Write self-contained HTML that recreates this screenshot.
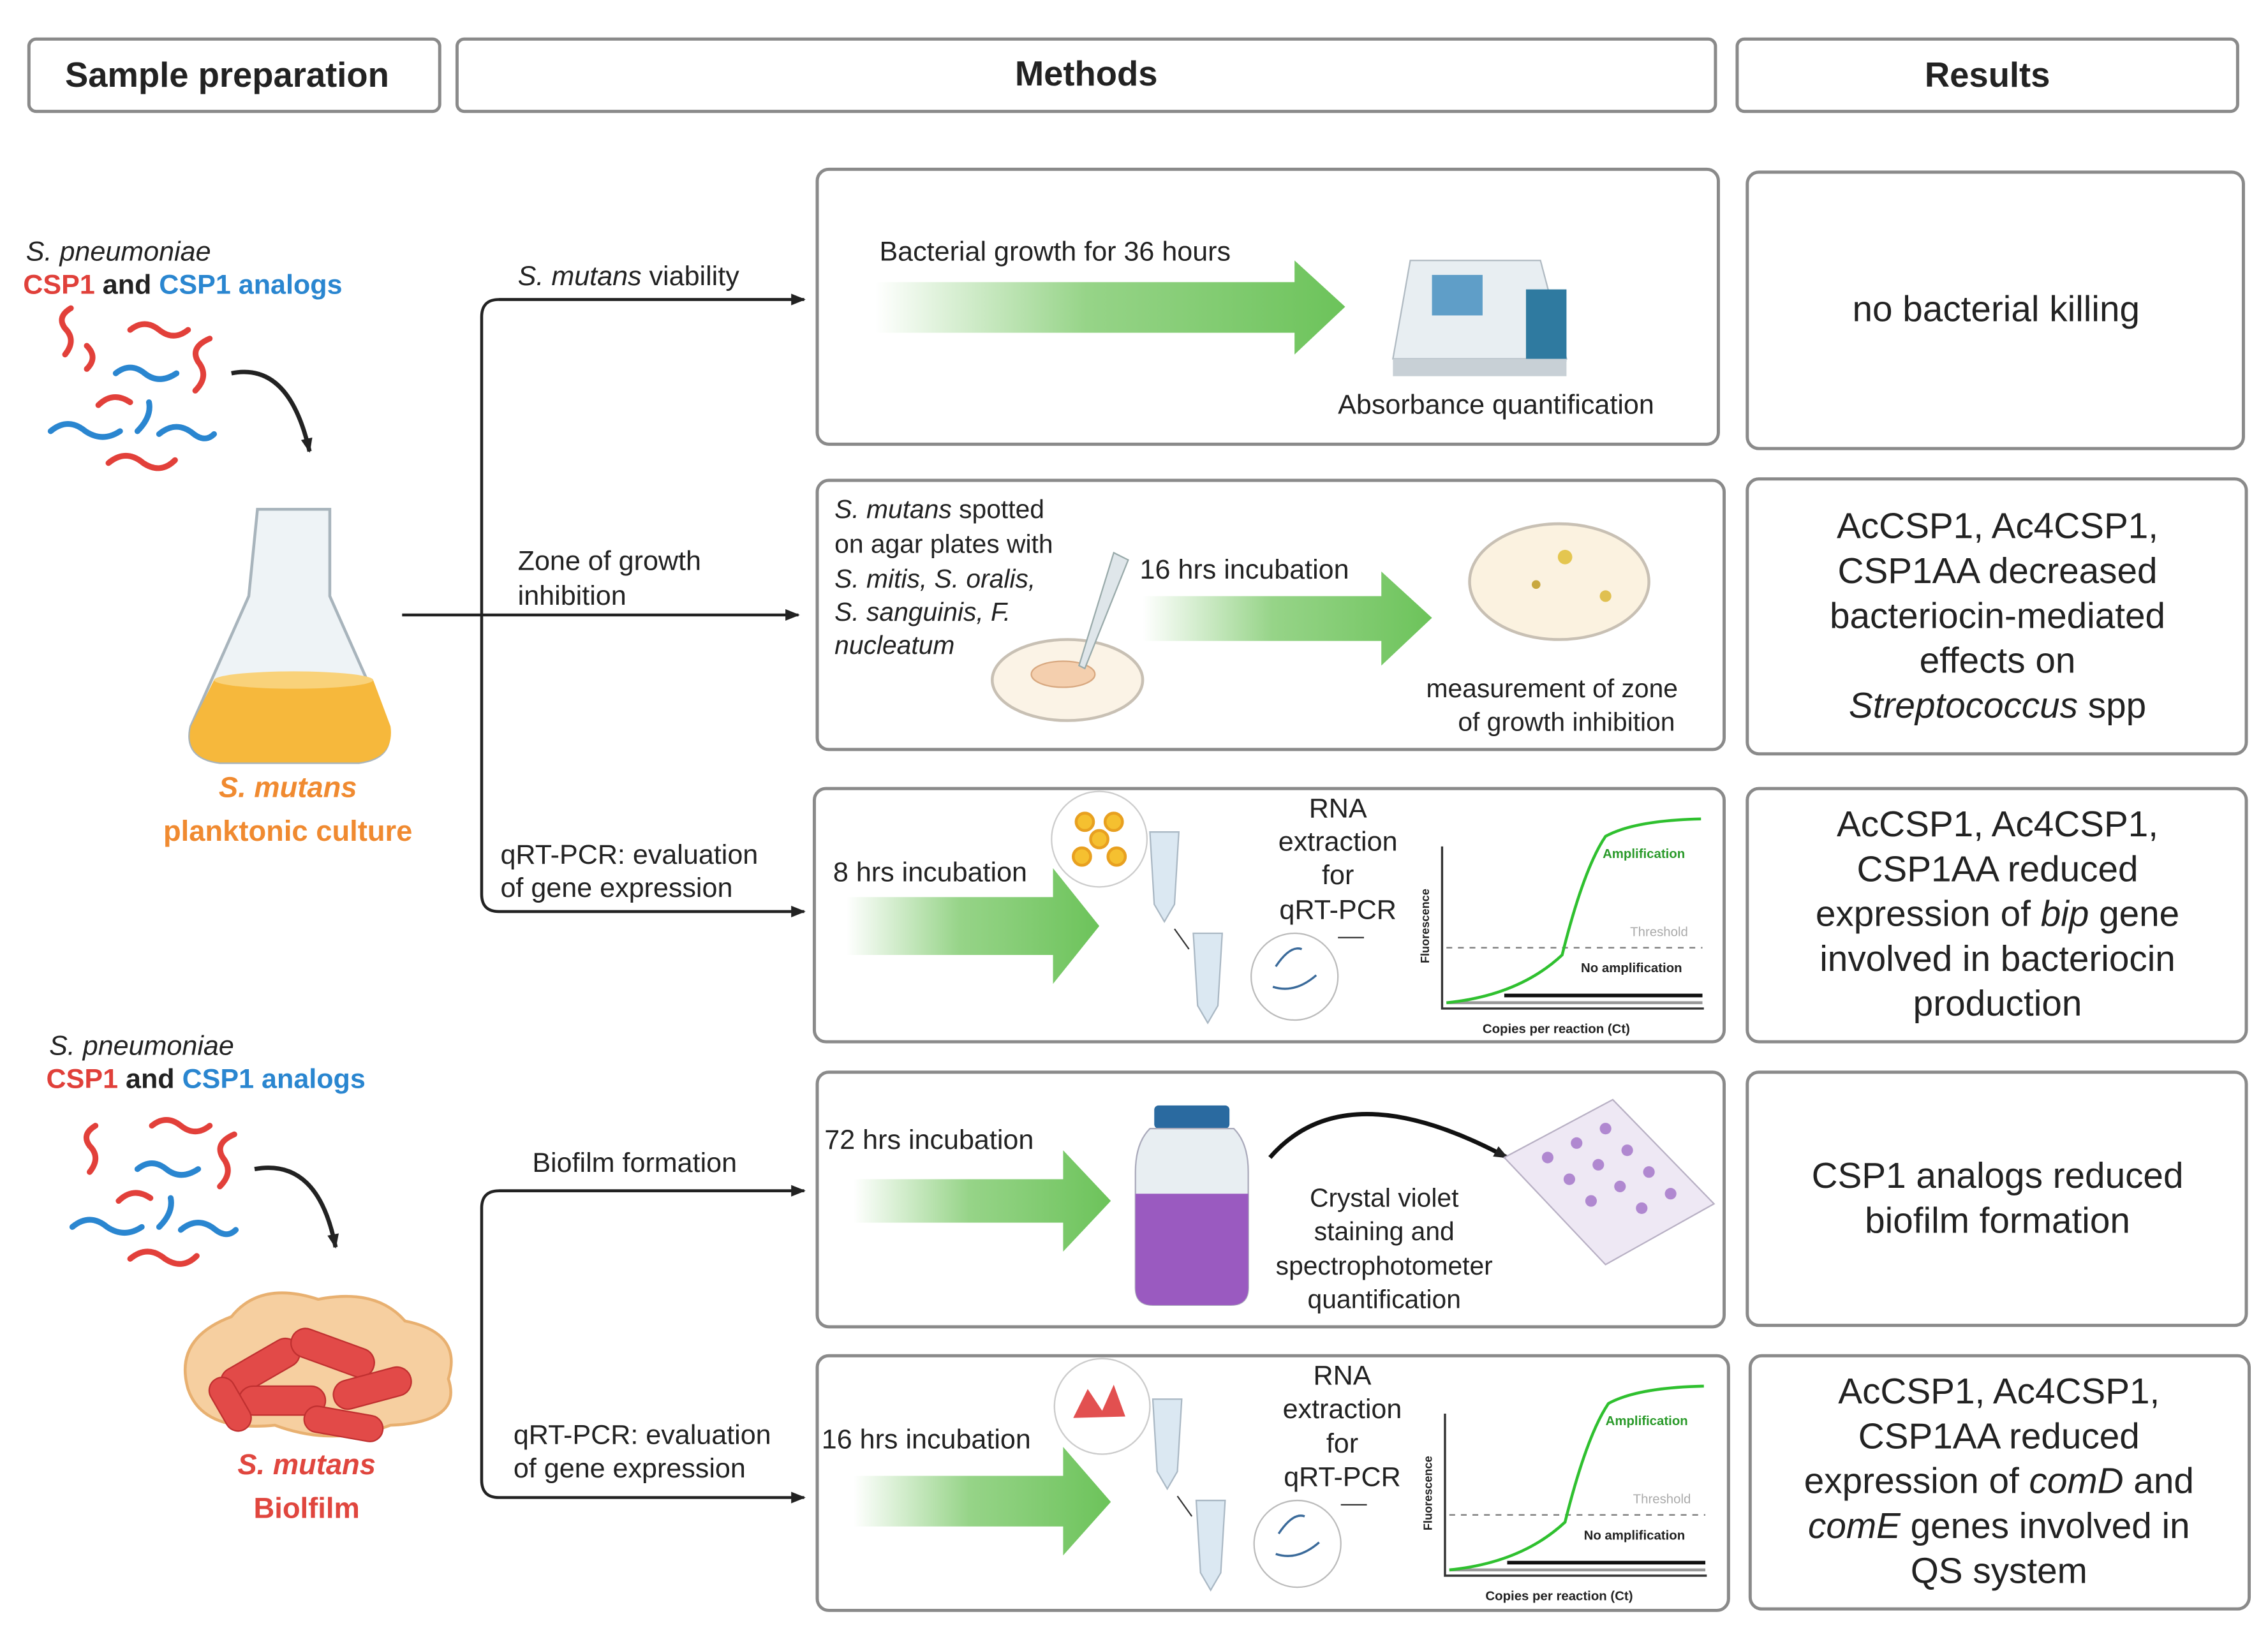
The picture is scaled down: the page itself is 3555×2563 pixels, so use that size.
<!DOCTYPE html>
<html><head><meta charset="utf-8"><style>
html,body{margin:0;padding:0;background:#fff;}
svg{display:block;}
text{font-family:"Liberation Sans",sans-serif;}
</style></head><body>
<svg width="3555" height="2563" viewBox="0 0 1568 1130" preserveAspectRatio="none" xmlns="http://www.w3.org/2000/svg" fill="#222">
<defs>
<linearGradient id="g" x1="0" x2="1" y1="0" y2="0">
<stop offset="0" stop-color="#7cc96a" stop-opacity="0"/>
<stop offset="0.45" stop-color="#7cc96a" stop-opacity="0.8"/>
<stop offset="1" stop-color="#6cc35a"/>
</linearGradient>
<marker id="ah" markerWidth="10" markerHeight="10" refX="9" refY="5" orient="auto" markerUnits="userSpaceOnUse">
<path d="M0,1 L10,5 L0,9 Z" fill="#222"/></marker>
</defs>
<g fill="none" stroke="#8a8a8a" stroke-width="2.2">
<rect x="20" y="27" width="284" height="50" rx="5"/>
<rect x="316" y="27" width="870" height="50" rx="5"/>
<rect x="1201" y="27" width="346" height="50" rx="5"/>
<rect x="565" y="117" width="623" height="190" rx="8"/>
<rect x="565" y="332" width="627" height="186" rx="8"/>
<rect x="563" y="545" width="629" height="175" rx="8"/>
<rect x="565" y="741" width="627" height="176" rx="8"/>
<rect x="565" y="937" width="630" height="176" rx="8"/>
<rect x="1208" y="119" width="343" height="191" rx="8"/>
<rect x="1208" y="331" width="345" height="190" rx="8"/>
<rect x="1208" y="545" width="345" height="175" rx="8"/>
<rect x="1208" y="741" width="345" height="175" rx="8"/>
<rect x="1210" y="937" width="345" height="175" rx="8"/>
</g>
<g font-size="24" font-weight="bold" text-anchor="middle">
<text x="157" y="60">Sample preparation</text>
<text x="751" y="59">Methods</text>
<text x="1374" y="60">Results</text>
</g>
<g fill="none" stroke="#222" stroke-width="2">
<path d="M556,207 H345 Q333,207 333,219 V618 Q333,630 345,630 H556" marker-end="url(#ah)"/>
<path d="M345,207 H556" marker-end="url(#ah)"/>
<path d="M278,425 H552" marker-end="url(#ah)"/>
<path d="M556,823 H345 Q333,823 333,835 V1023 Q333,1035 345,1035 H556" marker-end="url(#ah)"/>
<path d="M345,823 H556" marker-end="url(#ah)"/>
</g>
<g font-size="19">
<text x="358" y="197"><tspan font-style="italic">S. mutans</tspan> viability</text>
<text x="358" y="394">Zone of growth</text><text x="358" y="418">inhibition</text>
<text x="346" y="597">qRT-PCR: evaluation</text><text x="346" y="620">of gene expression</text>
<text x="368" y="810">Biofilm formation</text>
<text x="355" y="998">qRT-PCR: evaluation</text><text x="355" y="1021">of gene expression</text>
</g>
<g font-size="19">
<text x="18" y="180" font-style="italic">S. pneumoniae</text>
<text x="16" y="203" font-weight="bold"><tspan fill="#e0403a">CSP1</tspan> and <tspan fill="#2a86d0">CSP1 analogs</tspan></text>
<text x="34" y="729" font-style="italic">S. pneumoniae</text>
<text x="32" y="752" font-weight="bold"><tspan fill="#e0403a">CSP1</tspan> and <tspan fill="#2a86d0">CSP1 analogs</tspan></text>
</g>
<g font-size="20" font-weight="bold" text-anchor="middle">
<text x="199" y="551" fill="#f08a30" font-style="italic">S. mutans</text>
<text x="199" y="581" fill="#f08a30">planktonic culture</text>
<text x="212" y="1019" fill="#e0463e" font-style="italic">S. mutans</text>
<text x="212" y="1049" fill="#e0463e">Biolfilm</text>
</g>
<g fill="none" stroke-width="4" stroke-linecap="round">
<g stroke="#e2403a">
<path d="M45,245 q8,-10 0,-18 q-6,-8 4,-14"/><path d="M90,228 q10,-8 20,0 q10,8 20,0"/>
<path d="M135,270 q10,-10 2,-20 q-6,-10 8,-16"/><path d="M68,280 q10,-10 22,-2"/>
<path d="M75,320 q12,-10 24,0 q12,8 22,-2"/><path d="M60,255 q8,-8 0,-16"/>
</g>
<g stroke="#2a86d0">
<path d="M80,258 q10,-8 20,0 q10,8 22,0"/><path d="M35,298 q12,-10 24,0 q12,8 24,0"/>
<path d="M95,298 q10,-10 8,-20"/><path d="M110,300 q12,-10 24,0 q8,6 14,0"/>
</g>
<g stroke="#e2403a">
<path d="M62,810 q8,-10 0,-18 q-6,-8 4,-14"/><path d="M105,778 q10,-8 20,0 q10,8 20,0"/>
<path d="M152,820 q10,-10 2,-20 q-6,-10 8,-16"/><path d="M82,830 q10,-10 22,-2"/>
<path d="M90,870 q12,-10 24,0 q12,8 22,-2"/>
</g>
<g stroke="#2a86d0">
<path d="M95,808 q10,-8 20,0 q10,8 22,0"/><path d="M50,848 q12,-10 24,0 q12,8 24,0"/>
<path d="M110,848 q10,-10 8,-20"/><path d="M125,850 q12,-10 24,0 q8,6 14,0"/>
</g>
</g>
<g fill="none" stroke="#222" stroke-width="3">
<path d="M160,258 Q200,250 214,312" marker-end="url(#ah)"/>
<path d="M176,808 Q220,800 232,862" marker-end="url(#ah)"/>
</g>
<path d="M178,352 h50 v60 l40,90 q5,22 -20,25 h-96 q-25,-3 -20,-25 l40,-90 z" fill="#eef3f6" stroke="#a8b4bc" stroke-width="2"/>
<path d="M148,470 h110 l12,32 q3,22 -22,25 h-96 q-25,-3 -20,-25 z" fill="#f6b83c"/>
<ellipse cx="203" cy="470" rx="55" ry="6" fill="#f9d27a"/>
<path d="M130,960 q-10,-35 30,-50 q20,-25 60,-12 q40,-8 60,15 q40,8 30,40 q10,30 -40,32 q-40,15 -80,0 q-50,5 -60,-25z" fill="#f6cfa0" stroke="#e8b070" stroke-width="2"/>
<g fill="#e24a48" stroke="#c03030" stroke-width="1">
<rect x="150" y="935" width="60" height="20" rx="10" transform="rotate(-30 180 945)"/>
<rect x="200" y="925" width="60" height="20" rx="10" transform="rotate(20 230 935)"/>
<rect x="165" y="958" width="60" height="20" rx="10"/>
<rect x="230" y="950" width="55" height="20" rx="10" transform="rotate(-15 255 960)"/>
<rect x="140" y="962" width="40" height="18" rx="9" transform="rotate(60 160 970)"/>
<rect x="210" y="975" width="55" height="18" rx="9" transform="rotate(10 237 984)"/>
</g>
<g fill="url(#g)">
<path d="M605,195 H895 V180 L930,212 L895,245 V230 H605Z"/>
<path d="M790,412 H955 V395 L990,427 L955,460 V443 H790Z"/>
<path d="M585,620 H728 V600 L760,640 L728,680 V660 H585Z"/>
<path d="M590,815 H735 V795 L768,830 L735,865 V845 H590Z"/>
<path d="M590,1020 H735 V1000 L768,1038 L735,1075 V1055 H590Z"/>
</g>
<g font-size="19">
<text x="608" y="180">Bacterial growth for 36 hours</text>
<text x="925" y="286">Absorbance quantification</text>
</g>
<path d="M975,180 h90 l18,68 h-120z" fill="#e8eef2" stroke="#b0bac2"/>
<rect x="990" y="190" width="35" height="28" fill="#5f9ec8"/>
<rect x="1055" y="200" width="28" height="50" fill="#2f7aa0"/>
<rect x="963" y="248" width="120" height="12" fill="#c8d0d6"/>
<g font-size="18" font-style="italic">
<text x="577" y="358"><tspan>S. mutans</tspan><tspan font-style="normal"> spotted</tspan></text>
<text x="577" y="382" font-style="normal">on agar plates with</text>
<text x="577" y="406">S. mitis, S. oralis,</text>
<text x="577" y="429">S. sanguinis, F.</text>
<text x="577" y="452">nucleatum</text>
</g>
<text x="788" y="400" font-size="19">16 hrs incubation</text>
<text x="1073" y="482" font-size="18" text-anchor="middle">measurement of zone</text>
<text x="1083" y="505" font-size="18" text-anchor="middle">of growth inhibition</text>
<ellipse cx="738" cy="470" rx="52" ry="28" fill="#fbf3e6" stroke="#c8c0b4" stroke-width="2"/>
<ellipse cx="735" cy="466" rx="22" ry="9" fill="#f4cfae" stroke="#d8a880"/>
<path d="M770,382 l10,5 l-30,75 l-4,-2z" fill="#dfe6ea" stroke="#9aa"/>
<ellipse cx="1078" cy="402" rx="62" ry="40" fill="#fbf2e0" stroke="#c8c0b4" stroke-width="2"/>
<circle cx="1082" cy="385" r="5" fill="#e4c650"/><circle cx="1062" cy="404" r="3" fill="#c8a840"/><circle cx="1110" cy="412" r="4" fill="#e0c050"/>
<text x="576" y="609" font-size="19">8 hrs incubation</text>
<g font-size="19" text-anchor="middle">
<text x="925" y="565">RNA</text><text x="925" y="588">extraction</text><text x="925" y="611">for</text><text x="925" y="635">qRT-PCR</text>
<text x="928" y="957">RNA</text><text x="928" y="980">extraction</text><text x="928" y="1004">for</text><text x="928" y="1027">qRT-PCR</text>
</g>
<g id="pcr">
<circle cx="760" cy="580" r="33" fill="#fff" stroke="#ccc"/>
<g fill="#f5c030" stroke="#e8a020" stroke-width="2"><circle cx="750" cy="568" r="6"/><circle cx="770" cy="568" r="6"/><circle cx="760" cy="580" r="6"/><circle cx="748" cy="592" r="6"/><circle cx="772" cy="592" r="6"/></g>
<path d="M795,575 h20 l-3,50 l-7,12 l-7,-12z" fill="#dbe8f2" stroke="#aab8c4"/>
<path d="M825,645 h20 l-3,50 l-7,12 l-7,-12z" fill="#dbe8f2" stroke="#aab8c4"/>
<circle cx="895" cy="675" r="30" fill="#fff" stroke="#bbb"/>
<path d="M882,668 q10,-15 18,-12 M880,682 q15,5 30,-8" stroke="#3a6a9a" fill="none" stroke-width="1.5"/>
<path d="M812,642 l10,14" stroke="#333"/>
<path d="M925,648 h18" stroke="#333"/>
<path d="M997,585 V697 H1178" stroke="#333" fill="none" stroke-width="1.5"/>
<path d="M1000,655 H1177" stroke="#777" stroke-dasharray="4,4"/>
<path d="M1000,693 H1177" stroke="#999" stroke-width="2"/>
<path d="M1000,693 Q1050,688 1080,660 Q1095,600 1110,578 Q1130,567 1176,566" stroke="#2fc02f" fill="none" stroke-width="2"/>
<path d="M1040,688 H1177" stroke="#111" stroke-width="2.5"/>
<text x="1108" y="593" font-size="9" font-weight="bold" fill="#2a9a2a">Amplification</text>
<text x="1127" y="647" font-size="9" fill="#aaa">Threshold</text>
<text x="1093" y="672" font-size="9" font-weight="bold">No amplification</text>
<text x="1025" y="714" font-size="9" font-weight="bold">Copies per reaction (Ct)</text>
<text x="988" y="640" font-size="8" font-weight="bold" transform="rotate(-90 988 640)" text-anchor="middle">Fluorescence</text>
</g>
<use href="#pcr" transform="translate(2,392)"/>
<circle cx="762" cy="972" r="33" fill="#fff" stroke="#ccc"/>
<path d="M742,980 l10,-20 l10,15 l8,-18 l8,22z" fill="#e25050"/>
<text x="568" y="1001" font-size="19">16 hrs incubation</text>
<text x="570" y="794" font-size="19">72 hrs incubation</text>
<rect x="798" y="764" width="52" height="16" rx="3" fill="#2a6aa0"/>
<path d="M795,780 h58 q10,10 10,30 v80 q0,12 -12,12 h-54 q-12,0 -12,-12 v-80 q0,-20 10,-30z" fill="#e8eef2" stroke="#aab"/>
<path d="M785,825 h78 v65 q0,12 -12,12 h-54 q-12,0 -12,-12z" fill="#9a5ac0"/>
<path d="M878,800 Q930,740 1042,800" fill="none" stroke="#111" stroke-width="3" marker-end="url(#ah)"/>
<g font-size="18" text-anchor="middle"><text x="957" y="834">Crystal violet</text><text x="957" y="857">staining and</text><text x="957" y="881">spectrophotometer</text><text x="957" y="904">quantification</text></g>
<path d="M1040,800 l75,-40 l70,72 l-75,42z" fill="#eee8f4" stroke="#b8b0c4"/>
<g fill="#b088d0"><circle cx="1070" cy="800" r="4"/><circle cx="1090" cy="790" r="4"/><circle cx="1110" cy="780" r="4"/><circle cx="1085" cy="815" r="4"/><circle cx="1105" cy="805" r="4"/><circle cx="1125" cy="795" r="4"/><circle cx="1100" cy="830" r="4"/><circle cx="1120" cy="820" r="4"/><circle cx="1140" cy="810" r="4"/><circle cx="1135" cy="835" r="4"/><circle cx="1155" cy="825" r="4"/></g>
<g font-size="25" text-anchor="middle">
<text x="1380" y="222">no bacterial killing</text>
<text x="1381" y="372">AcCSP1, Ac4CSP1,</text><text x="1381" y="403">CSP1AA decreased</text><text x="1381" y="434">bacteriocin-mediated</text><text x="1381" y="465">effects on</text><text x="1381" y="496"><tspan font-style="italic">Streptococcus</tspan> spp</text>
<text x="1381" y="578">AcCSP1, Ac4CSP1,</text><text x="1381" y="609">CSP1AA reduced</text><text x="1381" y="640">expression of <tspan font-style="italic">bip</tspan> gene</text><text x="1381" y="671">involved in bacteriocin</text><text x="1381" y="702">production</text>
<text x="1381" y="821">CSP1 analogs reduced</text><text x="1381" y="852">biofilm formation</text>
<text x="1382" y="970">AcCSP1, Ac4CSP1,</text><text x="1382" y="1001">CSP1AA reduced</text><text x="1382" y="1032">expression of <tspan font-style="italic">comD</tspan> and</text><text x="1382" y="1063"><tspan font-style="italic">comE</tspan> genes involved in</text><text x="1382" y="1094">QS system</text>
</g>
</svg>
</body></html>
